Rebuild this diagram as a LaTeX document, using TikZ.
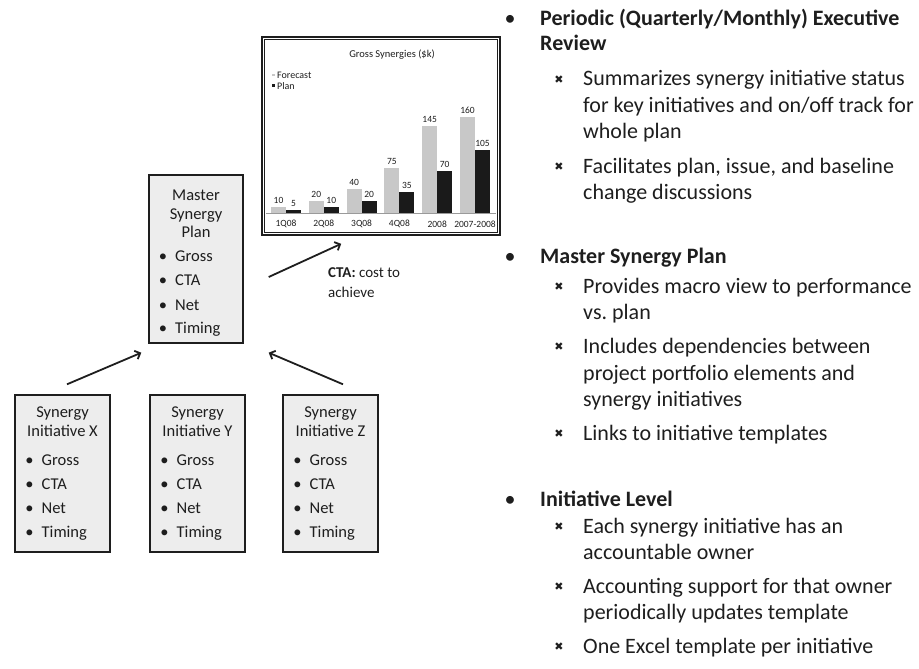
\documentclass[tikz,border=0pt]{standalone}
\usepackage{fontspec}
\setmainfont{Carlito}
\newfontfamily\symfont{DejaVu Sans}
\usetikzlibrary{arrows.meta,calc}
\definecolor{ink}{HTML}{1E1E1E}
\definecolor{boxfill}{HTML}{EDEDED}
\definecolor{fcast}{HTML}{C8C8C8}
\definecolor{planbar}{HTML}{1A1A1A}
\definecolor{axisgray}{HTML}{9A9A9A}
\frenchspacing

\begin{document}
\begin{tikzpicture}[x=1pt,y=-1pt,
  every node/.style={inner sep=0pt, text=ink},
  card/.style={draw=ink, line width=1.4pt, fill=boxfill},
  boxtitle/.style={font=\fontsize{16.5}{18}\selectfont, anchor=base},
  boxdot/.style={font=\fontsize{16.5}{18}\selectfont, anchor=base},
  boxitem/.style={font=\fontsize{16.5}{18}\selectfont, anchor=base west},
  chartlbl/.style={font=\fontsize{9.5}{11}\selectfont},
  legendtxt/.style={font=\fontsize{10}{12}\selectfont, anchor=base west},
  arr/.style={draw=ink, line width=1.8pt, -{Straight Barb[length=4.5pt,width=9pt]}},
  rtxt/.style={font=\fontsize{22}{26}\selectfont, anchor=base west},
  rhead/.style={font=\fontsize{22}{26}\selectfont\bfseries, anchor=base west},
  rdot/.style={font=\fontsize{22}{26}\selectfont, anchor=base},
  xmark/.style={font=\symfont\fontsize{11}{12}\selectfont},
  ctatxt/.style={font=\fontsize{15}{17}\selectfont, anchor=base west}
]
\useasboundingbox (0,0) rectangle (919,669);

% ---- master plan card ----
\node[card, minimum width=94pt, minimum height=168pt] (master) at (196,259) {};
\node[boxtitle] (mt1) at (196,200) {Master};
\node[boxtitle] (mt2) at (196,219) {Synergy};
\node[boxtitle] (mt3) at (196,237) {Plan};
\foreach \i/\w/\yy in {1/Gross/261, 2/CTA/285, 3/Net/310, 4/Timing/333} {
  \node[boxdot] (md\i) at (163,\yy) {•};
  \node[boxitem] (mi\i) at (175,\yy) {\w};
}

% ---- initiative cards ----
\foreach \n/\cx/\L in {bx/62.5/X, by/197.5/Y, bz/330.5/Z} {
  \node[card, minimum width=95pt, minimum height=157pt] (\n) at (\cx,473.5) {};
  \node[boxtitle] (\n-t1) at (\cx,417) {Synergy};
  \node[boxtitle] (\n-t2) at (\cx,436) {Initiative \L};
  \foreach \i/\w/\yy in {1/Gross/465, 2/CTA/489, 3/Net/513, 4/Timing/537} {
    \node[boxdot] (\n-d\i) at (\cx-33,\yy) {•};
    \node[boxitem] (\n-i\i) at (\cx-21,\yy) {\w};
  }
}

% ---- chart panel ----
\node[draw=ink, line width=1.6pt, minimum width=238pt, minimum height=198pt] (chart) at (381,136) {};
\draw[ink, line width=0.6pt] ($(chart.north west)+(3.5,3.5)$) rectangle ($(chart.south east)+(-3.5,-3.5)$);
\node[font=\fontsize{10.5}{12}\selectfont] (ctitle) at (392,55) {Gross Synergies (\$k)};
\fill[fcast] (271.5,74) rectangle (275,76);
\node[legendtxt] (lg1) at (277,78.5) {Forecast};
\fill[planbar] (271.5,84) rectangle (275,87.5);
\node[legendtxt] (lg2) at (277,89) {Plan};
\draw[axisgray, line width=0.6pt] (266,213) -- (496,213);
\foreach \i/\f/\p/\lab in {0/10/5/1Q08, 1/20/10/2Q08, 2/40/20/3Q08, 3/75/35/4Q08, 4/145/70/2008, 5/160/105/2007-2008} {
  \fill[fcast] (271+37.8*\i,213) rectangle (286+37.8*\i,213-0.6*\f);
  \fill[planbar] (286+37.8*\i,213) rectangle (301+37.8*\i,213-0.6*\p);
  \node[chartlbl, anchor=south] (fv\i) at (278.5+37.8*\i,210-0.6*\f) {\f};
  \node[chartlbl, anchor=south] (pv\i) at (293.5+37.8*\i,210-0.6*\p) {\p};
  \node[chartlbl] (cat\i) at (286+37.8*\i,224) {\lab};
}

% ---- CTA note ----
\node[ctatxt] (cta1) at (328,277) {\textbf{CTA:} cost to};
\node[ctatxt] (cta2) at (328,297) {achieve};

% ---- arrows ----
\coordinate (a1s) at ($(bx.north)+(4.5,-10)$);
\coordinate (a1e) at ($(master.south west)+(-7,9)$);
\coordinate (a2s) at ($(bz.north)+(12.5,-10)$);
\coordinate (a2e) at ($(master.south east)+(25,9)$);
\coordinate (a3s) at ($(master.east)+(25,18)$);
\coordinate (a3e) at ($(chart.south west)+(80,8)$);
\draw[arr] (a1s) -- (a1e);
\draw[arr] (a2s) -- (a2e);
\draw[arr] (a3s) -- (a3e);

% ---- right-hand text ----
\node[rdot] (b1) at (510,26) {•};
\node[rhead] (h1a) at (540,26) {Periodic (Quarterly/Monthly) Executive};
\node[rhead] (h1b) at (540,51) {Review};
\node[rtxt] (s1a) at (583,86) {Summarizes synergy initiative status};
\node[rtxt] (s1b) at (583,113) {for key initiatives and on/off track for};
\node[rtxt] (s1c) at (583,139) {whole plan};
\node[rtxt] (s2a) at (583,173) {Facilitates plan, issue, and baseline};
\node[rtxt] (s2b) at (583,199) {change discussions};

\node[rdot] (b2) at (510,263) {•};
\node[rhead] (h2) at (540,263) {Master Synergy Plan};
\node[rtxt] (s3a) at (583,293) {Provides macro view to performance};
\node[rtxt] (s3b) at (583,319) {vs. plan};
\node[rtxt] (s4a) at (583,353) {Includes dependencies between};
\node[rtxt] (s4b) at (583,380) {project portfolio elements and};
\node[rtxt] (s4c) at (583,406) {synergy initiatives};
\node[rtxt] (s5) at (583,440) {Links to initiative templates};

\node[rdot] (b3) at (510,506) {•};
\node[rhead] (h3) at (540,506) {Initiative Level};
\node[rtxt] (s6a) at (583,533) {Each synergy initiative has an};
\node[rtxt] (s6b) at (583,559) {accountable owner};
\node[rtxt] (s7a) at (583,593) {Accounting support for that owner};
\node[rtxt] (s7b) at (583,619) {periodically updates template};
\node[rtxt] (s8) at (583,653) {One Excel template per initiative};

\foreach \k/\yy in {1/86, 2/173, 3/293, 4/353, 5/440, 6/533, 7/593, 8/653} {
  \node[xmark] (x\k) at (559,\yy-6.5) {✖};
}
\end{tikzpicture}
\end{document}
